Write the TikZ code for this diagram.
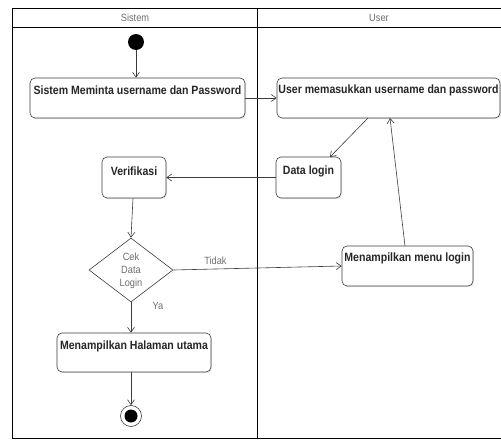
\documentclass[tikz,border=0pt]{standalone}
\usepackage{fontspec}
\setmainfont{Liberation Sans}
\newfontfamily\actfont[FakeStretch=0.88]{Liberation Sans}
\usetikzlibrary{arrows.meta,shapes.geometric,shadows}
\definecolor{lineclr}{RGB}{60,60,60}
\definecolor{lblclr}{RGB}{110,110,110}
\tikzset{
  lane/.style={draw=black, line width=0.9pt},
  act/.style={draw=lineclr, rounded corners=5pt, line width=0.6pt, fill=white,
    drop shadow={opacity=0.18, shadow xshift=1.2pt, shadow yshift=-1.2pt},
    inner sep=0pt},
  acttext/.style={font=\actfont\bfseries\fontsize{12}{14}\selectfont, text=black!85},
  flow/.style={draw=lineclr, line width=0.6pt,
    -{Straight Barb[length=5pt,width=7pt,line width=0.6pt]}},
  lbl/.style={text=lblclr, font=\actfont\fontsize{10.5}{12}\selectfont},
}
\begin{document}
\begin{tikzpicture}[x=1pt,y=-1pt]
\useasboundingbox (0,0) rectangle (501,441);
\fill[white] (0,0) rectangle (501,441);

% swimlanes
\draw[lane] (12,438) -- (12,8) -- (505,8);
\draw[lane] (12,27) -- (505,27);
\draw[lane] (257,8) -- (257,438);
\draw[lane] (12,438) -- (505,438);
\node[lbl] (hsis) at (135,17.5) {Sistem};
\node[lbl] (husr) at (379,17.5) {User};

% start and end
\node[circle, fill=black, minimum size=16pt, inner sep=0pt] (start) at (136,42) {};
\node[circle, draw=lineclr, line width=0.6pt, minimum size=21pt, inner sep=0pt] (stop) at (131,416) {};
\node[circle, fill=black, minimum size=13pt, inner sep=0pt] (stopin) at (131,416) {};

% activities
\node[act, minimum width=215pt, minimum height=40pt] (s1) at (137.5,98) {};
\node[acttext] (s1l) at (137.5,90) {Sistem Meminta username dan Password};

\node[act, minimum width=223pt, minimum height=40pt] (u1) at (388.5,98) {};
\node[acttext] (u1l) at (388.5,90) {User memasukkan username dan password};

\node[act, minimum width=65pt, minimum height=41pt] (dl) at (308.5,177.5) {};
\node[acttext] (dll) at (308.5,171) {Data login};

\node[act, minimum width=64pt, minimum height=41pt] (ver) at (134,177.5) {};
\node[acttext] (verl) at (134,171) {Verifikasi};

\node[act, minimum width=131pt, minimum height=40pt] (menu) at (407.5,266) {};
\node[acttext] (menul) at (407.5,258) {Menampilkan menu login};

\node[act, minimum width=154pt, minimum height=39pt] (home) at (134,352.5) {};
\node[acttext] (homel) at (134,346) {Menampilkan Halaman utama};

% decision
\node[diamond, draw=lineclr, line width=0.6pt, fill=white, minimum width=84pt,
  minimum height=64pt, inner sep=0pt, aspect=1.3] (cek) at (131,270) {};
\node[lbl, align=center, font=\actfont\fontsize{10.5}{13}\selectfont] (cekl) at (131,271) {Cek\\Data\\Login};

% flows
\draw[flow] (start) -- (s1.north -| start);
\draw[flow] (s1.east) -- (u1.west);
\draw[flow] (368,118) -- (330,157);
\draw[flow] (dl.west) -- (ver.east);
\draw[flow] (405,246) -- (390,118);
\draw[flow] (ver.south -| 133,0) -- (cek.north);
\draw[flow] (cek.east) -- (menu.west) node[lbl, pos=0.25, above=1pt] (tidak) {Tidak};
\draw[flow] (cek.south) -- (home.north -| cek);
\node[lbl] (ya) at (158,306) {Ya};
\draw[flow] (home.south -| stop) -- (stop);
\end{tikzpicture}
\end{document}
